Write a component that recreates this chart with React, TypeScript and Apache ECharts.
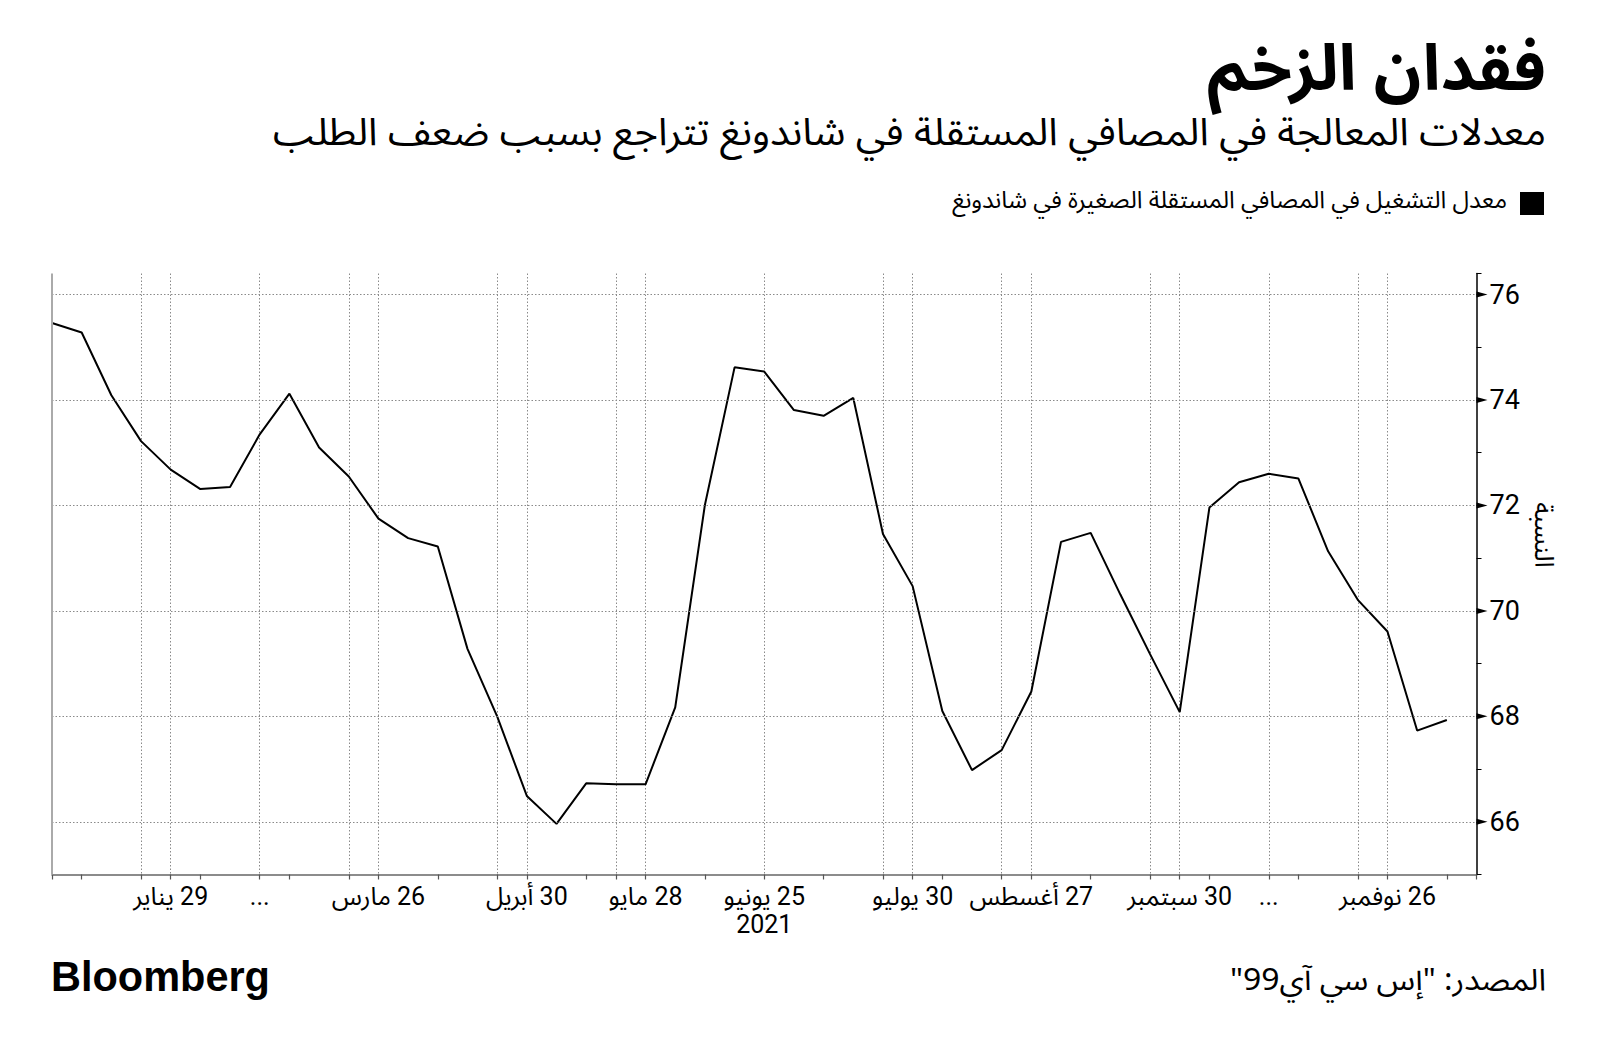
import React, { useEffect, useRef } from "react";
import * as echarts from "echarts";

// weekly observation dates (last category is an empty slot at the axis end)
const dates = [
  "2021-01-01", "2021-01-08", "2021-01-15", "2021-01-22", "2021-01-29", "2021-02-05",
  "2021-02-19", "2021-02-26", "2021-03-05", "2021-03-12", "2021-03-19", "2021-03-26",
  "2021-04-02", "2021-04-09", "2021-04-16", "2021-04-23", "2021-04-30", "2021-05-07",
  "2021-05-14", "2021-05-21", "2021-05-28", "2021-06-04", "2021-06-11", "2021-06-18",
  "2021-06-25", "2021-07-02", "2021-07-09", "2021-07-16", "2021-07-23", "2021-07-30",
  "2021-08-06", "2021-08-13", "2021-08-20", "2021-08-27", "2021-09-03", "2021-09-10",
  "2021-09-17", "2021-09-24", "2021-09-30", "2021-10-15", "2021-10-22", "2021-10-29",
  "2021-11-05", "2021-11-12", "2021-11-19", "2021-11-26", "2021-12-03", "2021-12-10",
  "2021-12-17",
];

const rates = [
  75.46, 75.28, 74.09, 73.22, 72.68, 72.31, 72.35, 73.35, 74.12, 73.1, 72.55, 71.75,
  71.38, 71.22, 69.28, 68.0, 66.49, 65.96, 66.73, 66.71, 66.71, 68.17, 72.01, 74.62,
  74.54, 73.81, 73.7, 74.04, 71.46, 70.47, 68.1, 66.98, 67.36, 68.47, 71.31, 71.48,
  70.31, 69.18, 68.08, 71.96, 72.44, 72.6, 72.51, 71.13, 70.21, 69.61, 67.73, 67.93,
];

const xLabelIndex = [4, 7, 11, 16, 20, 24, 29, 33, 38, 41, 45];
const xLabelText = [
  "29 يناير", "...", "26 مارس", "30 أبريل", "28 مايو", "25 يونيو\n2021",
  "30 يوليو", "27 أغسطس", "30 سبتمبر", "...", "26 نوفمبر",
];
const xTickIndex = [0, 1, 3, 4, 5, 7, 8, 10, 11, 13, 15, 16, 18, 19, 20, 22, 24, 26, 28, 29, 30, 32, 33, 35, 37, 38, 39, 41, 42, 44, 45, 47, 48];
const xGridIndex = [3, 4, 7, 10, 11, 15, 16, 19, 20, 24, 28, 29, 32, 33, 37, 38, 41, 44, 45];
const yLabelTicks = [66, 68, 70, 72, 74, 76];

const TITLE = "فقدان الزخم";
const SUBTITLE = "معدلات المعالجة في المصافي المستقلة في شاندونغ تتراجع بسبب ضعف الطلب";
const LEGEND = "معدل التشغيل في المصافي المستقلة الصغيرة في شاندونغ";
const SOURCE = "المصدر: \"إس سي آي99\"";
const Y_NAME = "النسبة";
const BRAND = "Bloomberg";

const AR = "'Noto Sans Arabic', 'DejaVu Sans', sans-serif";
const NUM = "Roboto, 'Noto Sans Arabic', 'DejaVu Sans', sans-serif";
const GRID_DASH = [1.5, 2];
const GRID_COLOR = "#8a8a8a";

function measure(text: string, font: string): number {
  const c = document.createElement("canvas").getContext("2d");
  if (!c) return 1;
  c.font = font;
  return c.measureText(text).width || 1;
}

function fitText(
  text: string, x: number, y: number, width: number, size: number, weight: string,
  family: string, align: string, scaleY = 1
) {
  const w = measure(text, `${weight} ${size}px ${family}`);
  return {
    type: "text",
    x,
    y,
    scaleX: width / w,
    scaleY,
    style: {
      text,
      fontSize: size,
      fontWeight: weight,
      fontFamily: family,
      fill: "#000",
      align,
      textAlign: align,
      verticalAlign: "middle",
      textVerticalAlign: "middle",
    },
  };
}

export default function App() {
  const ref = useRef<HTMLDivElement>(null);

  useEffect(() => {
    document.body.style.margin = "0";
    const styleEl = document.createElement("style");
    styleEl.textContent = "svg text { unicode-bidi: plaintext; }";
    document.head.appendChild(styleEl);

    const chart = echarts.init(ref.current!, null, { renderer: "svg" });
    const labelMap: string[] = dates.map(() => "");
    xLabelIndex.forEach((idx, i) => (labelMap[idx] = xLabelText[i]));

    chart.setOption({
      animation: false,
      backgroundColor: "#fff",
      grid: { left: 52, right: 123.5, top: 273.5, bottom: 182.5, containLabel: false },
      xAxis: {
        type: "category",
        data: dates,
        boundaryGap: false,
        axisLine: { show: true, lineStyle: { color: "#666", width: 1.5 } },
        axisTick: {
          show: true,
          length: 5,
          interval: (index: number) => xTickIndex.includes(index),
          lineStyle: { color: "#555", width: 1.2 },
        },
        axisLabel: {
          show: true,
          interval: (index: number) => labelMap[index] !== "",
          formatter: (_v: string, index: number) => labelMap[index],
          fontSize: 25,
          lineHeight: 28,
          fontFamily: NUM,
          color: "#000",
          margin: 8,
        },
        splitLine: {
          show: true,
          interval: (index: number) => xGridIndex.includes(index),
          lineStyle: { type: GRID_DASH, color: GRID_COLOR, width: 1 },
        },
      },
      yAxis: {
        type: "value",
        position: "right",
        min: 65,
        max: 76.4,
        interval: 1,
        axisLine: { show: true, lineStyle: { color: "#000", width: 1.5 } },
        axisTick: { show: true, length: 5, inside: false, lineStyle: { color: "#000", width: 1 } },
        axisLabel: {
          formatter: (v: number) => (Math.abs(v % 2) < 1e-9 ? String(v) : ""),
          fontSize: 27,
          fontFamily: NUM,
          color: "#000",
          margin: 13,
        },
        splitLine: { show: false },
      },
      series: [
        {
          type: "line",
          data: rates,
          symbol: "none",
          showSymbol: false,
          lineStyle: { color: "#000", width: 2 },
          itemStyle: { color: "#000" },
          markLine: {
            silent: true,
            symbol: ["none", "none"],
            label: { show: false },
            lineStyle: { type: GRID_DASH, color: GRID_COLOR, width: 1 },
            data: [
              ...yLabelTicks.map((v) => ({ yAxis: v })),
              { xAxis: dates[0], lineStyle: { type: "solid", color: "#aaa", width: 2 } },
            ],
          },
        },
      ],
    });

    const axisX = chart.convertToPixel({ xAxisIndex: 0 }, dates.length - 1) as number;
    const triangles = yLabelTicks.map((v) => {
      const py = chart.convertToPixel({ yAxisIndex: 0 }, v) as number;
      return {
        type: "polygon",
        shape: { points: [[axisX, py - 3], [axisX + 11, py], [axisX, py + 3]] },
        style: { fill: "#000" },
        z: 100,
      };
    });

    const graphics: any[] = [
      fitText(TITLE, 1546, 70, 339, 68, "bold", AR, "right", 0.94),
      fitText(SUBTITLE, 1546, 133, 1273, 38, "normal", AR, "right"),
      { type: "rect", shape: { x: 1520, y: 192, width: 24, height: 23 }, style: { fill: "#000" } },
      fitText(LEGEND, 1507, 201, 555, 24, "normal", AR, "right"),
      fitText(SOURCE, 1546, 980, 316, 30, "normal", AR, "right"),
      fitText(BRAND, 51, 976, 219, 42, "bold", "'Liberation Sans', Arial, sans-serif", "left"),
      {
        type: "text",
        x: 1543,
        y: 535,
        rotation: -Math.PI / 2,
        style: {
          text: Y_NAME,
          fontSize: 26,
          fontFamily: AR,
          fill: "#000",
          align: "center",
          textAlign: "center",
          verticalAlign: "middle",
          textVerticalAlign: "middle",
        },
      },
      ...triangles,
    ];
    chart.setOption({ graphic: graphics });

    return () => {
      chart.dispose();
      styleEl.remove();
    };
  }, []);

  return (
    <div
      ref={ref}
      style={{ position: "absolute", left: 0, top: 0, width: 1600, height: 1057, background: "#fff" }}
    />
  );
}
